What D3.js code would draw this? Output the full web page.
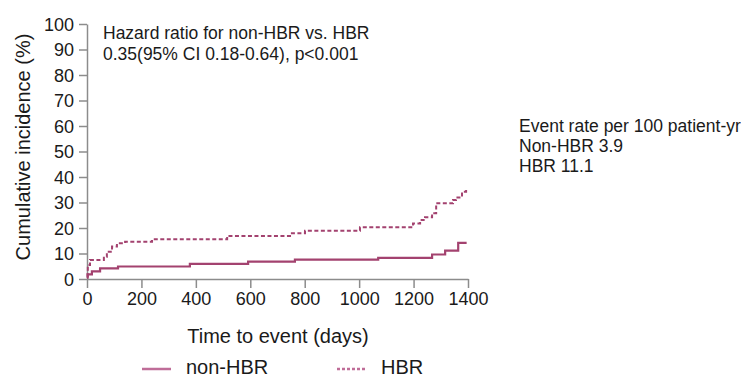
<!DOCTYPE html>
<html><head><meta charset="utf-8">
<script src="https://cdn.jsdelivr.net/npm/d3@7"></script>
<style>
html,body{margin:0;padding:0;background:#fff;}
svg{display:block;font-family:"Liberation Sans",Arial,Helvetica,sans-serif;}
</style></head>
<body><svg id="c" width="741" height="378"></svg>
<script>
// Data (step curves)
const nonHbrDays = [0, 2, 18, 48, 114, 378, 592, 764, 1070, 1268, 1316, 1364, 1395];
const nonHbrVals = [0.5, 1.8, 3.0, 4.2, 4.9, 5.9, 6.8, 7.6, 8.3, 9.6, 11.1, 14.2, 14.2];
const hbrDays = [0, 3, 11, 62, 73, 92, 110, 140, 239, 515, 746, 801, 1003, 1198, 1224, 1242, 1268, 1283, 1345, 1356, 1378, 1393];
const hbrVals = [1.0, 5.5, 7.5, 8.7, 10.7, 12.7, 14.0, 14.6, 15.6, 16.9, 17.9, 18.9, 20.3, 21.8, 23.1, 24.2, 25.8, 29.7, 31.0, 32.0, 34.2, 34.9];
const xTicks = [0, 200, 400, 600, 800, 1000, 1200, 1400];
const yTicks = [0, 10, 20, 30, 40, 50, 60, 70, 80, 90, 100];
const seriesNames = ["non-HBR", "HBR"];
const hazardText = ["Hazard ratio for non-HBR vs. HBR", "0.35(95% CI 0.18-0.64), p<0.001"];
const rateText = ["Event rate per 100 patient-yr", "Non-HBR 3.9", "HBR 11.1"];

const svg = d3.select("#c");
const x = d3.scaleLinear().domain([0, 1400]).range([87, 468]);
const y = d3.scaleLinear().domain([0, 100]).range([279, 24]);
const lineCol = "#a3426f";
const axisCol = "#8c8c8c";

// Axes
const xAxis = svg.append("g").attr("transform", "translate(0,279)")
  .call(d3.axisBottom(x).tickValues(xTicks).tickFormat(d3.format("d")).tickSize(9).tickSizeOuter(0).tickPadding(4));
const yAxis = svg.append("g").attr("transform", "translate(87,0)")
  .call(d3.axisLeft(y).tickValues(yTicks).tickFormat(d3.format("d")).tickSize(8).tickSizeOuter(0).tickPadding(5));
[xAxis, yAxis].forEach(a => {
  a.select(".domain").attr("stroke", axisCol).attr("stroke-width", 1.5);
  a.selectAll(".tick line").attr("stroke", axisCol).attr("stroke-width", 1.5);
  a.selectAll(".tick text").attr("fill", "#1a1a1a").style("font-size", "18px")
    .style("font-family", "'Liberation Sans',Arial,sans-serif");
});
yAxis.selectAll(".tick text").attr("dy", "0.36em");
xAxis.selectAll(".tick text").attr("dy", "0.71em");

// Axis titles
svg.append("text").attr("x", 278).attr("y", 343).attr("text-anchor", "middle")
  .attr("fill", "#1a1a1a").style("font-size", "20px").text("Time to event (days)");
svg.append("text").attr("transform", "translate(30,147) rotate(-90)").attr("text-anchor", "middle")
  .attr("fill", "#1a1a1a").style("font-size", "20px").text("Cumulative incidence (%)");

// Curves
const line = d3.line().x(d => x(d[0])).y(d => y(d[1])).curve(d3.curveStepAfter);
const nonHbr = nonHbrDays.map((d, i) => [d, nonHbrVals[i]]);
const hbr = hbrDays.map((d, i) => [d, hbrVals[i]]);
svg.append("path").datum(hbr).attr("d", line).attr("fill", "none")
  .attr("stroke", lineCol).attr("stroke-width", 2).attr("stroke-dasharray", "4,2.5");
svg.append("path").datum(nonHbr).attr("d", line).attr("fill", "none")
  .attr("stroke", lineCol).attr("stroke-width", 2.2);

// Annotations
hazardText.forEach((t, i) => {
  svg.append("text").attr("x", 103).attr("y", 39 + i * 21).attr("fill", "#1a1a1a")
    .style("font-size", "17.5px").text(t);
});
rateText.forEach((t, i) => {
  svg.append("text").attr("x", 519).attr("y", 132 + i * 20).attr("fill", "#1a1a1a")
    .style("font-size", "17.5px").text(t);
});

// Legend
const legX = [142, 337];
seriesNames.forEach((n, i) => {
  svg.append("line").attr("x1", legX[i]).attr("x2", legX[i] + 29).attr("y1", 369).attr("y2", 369)
    .attr("stroke", "#bf6d98").attr("stroke-width", 2.5)
    .attr("stroke-dasharray", i === 1 ? "3,2" : null);
  svg.append("text").attr("x", legX[i] + 44).attr("y", 374).attr("fill", "#1a1a1a")
    .style("font-size", "20px").text(n);
});
</script></body></html>
